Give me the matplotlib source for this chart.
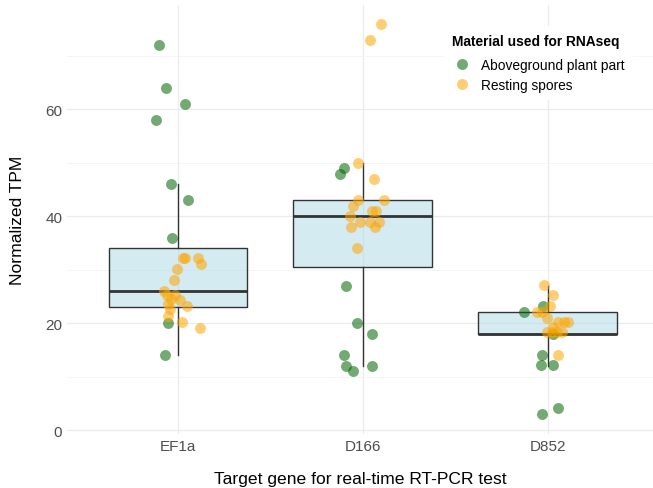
import matplotlib
matplotlib.use('Agg')
import matplotlib.pyplot as plt
from matplotlib.lines import Line2D

plt.rcParams['font.family'] = ['Liberation Sans', 'DejaVu Sans']

# genes on the x axis
genes = ['EF1a', 'D166', 'D852']
materials = ['Aboveground plant part', 'Resting spores']
mat_colors = ['darkgreen', 'orange']

# TPM values per gene, per material
ef1a_plant = [72, 64, 61, 58, 46, 43, 36, 20, 14]
ef1a_spores = [32.2, 32.2, 32.2, 31.1, 30.2, 28, 26.1, 25.2, 25.2, 24.6, 24.3,
               23.6, 23.2, 22.6, 21.4, 20.2, 19.1]
d166_plant = [49, 48, 27, 20, 18, 14, 12, 12, 11]
d166_spores = [76, 73, 50, 47, 43, 43, 42, 41, 41, 40, 39, 39, 39, 38, 38, 34]
d852_plant = [23.3, 22.1, 18, 14.1, 12.1, 12.1, 3, 4.1]
d852_spores = [27.2, 25.3, 23.3, 22.1, 22.1, 21, 20.2, 20.2, 20.2, 19.3, 18.3,
               18.3, 18.3, 18.3, 14.1]

# jitter offsets (category units) as they were drawn
ef1a_plant_jit = [-0.101, -0.062, 0.038, -0.116, -0.038, 0.054, -0.031, -0.051, -0.072]
ef1a_spores_jit = [0.027, 0.039, 0.108, 0.124, -0.005, -0.020, -0.074, -0.059, -0.015,
                   -0.038, 0.012, -0.051, 0.049, -0.042, -0.051, 0.022, 0.117]
d166_plant_jit = [-0.103, -0.124, -0.089, -0.032, 0.049, -0.103, -0.089, 0.050, -0.052]
d166_spores_jit = [0.099, 0.041, -0.024, 0.059, -0.024, 0.114, -0.051, 0.050, 0.072,
                   -0.069, -0.013, 0.041, 0.090, -0.063, 0.068, -0.032]
d852_plant_jit = [-0.024, -0.126, 0.030, -0.032, -0.035, 0.027, -0.029, 0.054]
d852_spores_jit = [-0.020, 0.030, 0.012, -0.059, -0.032, -0.005, 0.057, 0.090, 0.108,
                   0.030, -0.005, 0.022, 0.049, 0.076, 0.054]

# box summary (whisker low, Q1, median, Q3, whisker high)
box_low = [14, 12, 12]
box_q1 = [23, 30.5, 18]
box_med = [26, 40, 18]
box_q3 = [34, 43, 22]
box_high = [46, 50, 27]

plant_vals = [ef1a_plant, d166_plant, d852_plant]
spore_vals = [ef1a_spores, d166_spores, d852_spores]
plant_jit = [ef1a_plant_jit, d166_plant_jit, d852_plant_jit]
spore_jit = [ef1a_spores_jit, d166_spores_jit, d852_spores_jit]

fig = plt.figure(figsize=(6.53, 4.89), dpi=100)
ax = fig.add_axes([67/653, 1 - 434.5/489, 586/653, 429/489])

stats = []
for i, g in enumerate(genes):
    stats.append({'label': g, 'whislo': box_low[i], 'q1': box_q1[i], 'med': box_med[i],
                  'q3': box_q3[i], 'whishi': box_high[i], 'fliers': []})

ax.bxp(stats, positions=[1, 2, 3], widths=0.75, patch_artist=True, showcaps=False,
       boxprops=dict(facecolor=(173/255, 216/255, 230/255, 0.5), edgecolor='#333333', linewidth=1.0),
       medianprops=dict(color='#333333', linewidth=2.0),
       whiskerprops=dict(color='#333333', linewidth=1.0), zorder=2)

for i in range(3):
    xs = [i + 1 + d for d in plant_jit[i]]
    ax.scatter(xs, plant_vals[i], s=62, color=mat_colors[0], alpha=0.55, linewidths=0, zorder=3)
for i in range(3):
    xs = [i + 1 + d for d in spore_jit[i]]
    ax.scatter(xs, spore_vals[i], s=62, color=mat_colors[1], alpha=0.55, linewidths=0, zorder=3)

ax.set_xlim(0.4, 3.57)
ax.set_ylim(-0.65, 79.65)
ax.set_xticks([1, 2, 3])
ax.set_xticklabels(genes)
ax.set_yticks([0, 20, 40, 60])
ax.set_yticks([10, 30, 50, 70], minor=True)
ax.grid(True, which='major', color='#ebebeb', linewidth=0.9)
ax.grid(True, which='minor', axis='y', color='#f4f4f4', linewidth=0.6)
ax.set_axisbelow(True)
for sp in ax.spines.values():
    sp.set_visible(False)
ax.tick_params(which='both', length=0, labelsize=11, labelcolor='#4d4d4d')
ax.tick_params(axis='y', pad=3.4)
ax.tick_params(axis='x', pad=4)

fig.text(0.5 * (67 + 653) / 653, 1 - 480/489, 'Target gene for real-time RT-PCR test',
         ha='center', va='center', fontsize=12.6, color='black')
fig.text(18/653, 1 - 220/489, 'Normalized TPM', rotation=90,
         ha='center', va='center', fontsize=12.6, color='black')

handles = [Line2D([], [], marker='o', linestyle='none', markersize=7.9, markeredgewidth=0,
                  markerfacecolor=c, alpha=0.55) for c in mat_colors]
leg = ax.legend(handles, materials, title='Material used for RNAseq', loc='upper left',
                bbox_to_anchor=(444/653, 1 - 27/489), bbox_transform=fig.transFigure,
                frameon=True, facecolor='white', edgecolor='none', framealpha=1,
                fontsize=9.9, title_fontproperties={'weight': 'bold', 'size': 9.9},
                handletextpad=0.7, labelspacing=0.42, borderpad=0.6, alignment='left',
                handlelength=1.4, borderaxespad=0)
leg.get_frame().set_boxstyle('square', pad=0)
leg._legend_box.sep = 7
leg.set_zorder(5)

fig.savefig('out.png', dpi=100)
